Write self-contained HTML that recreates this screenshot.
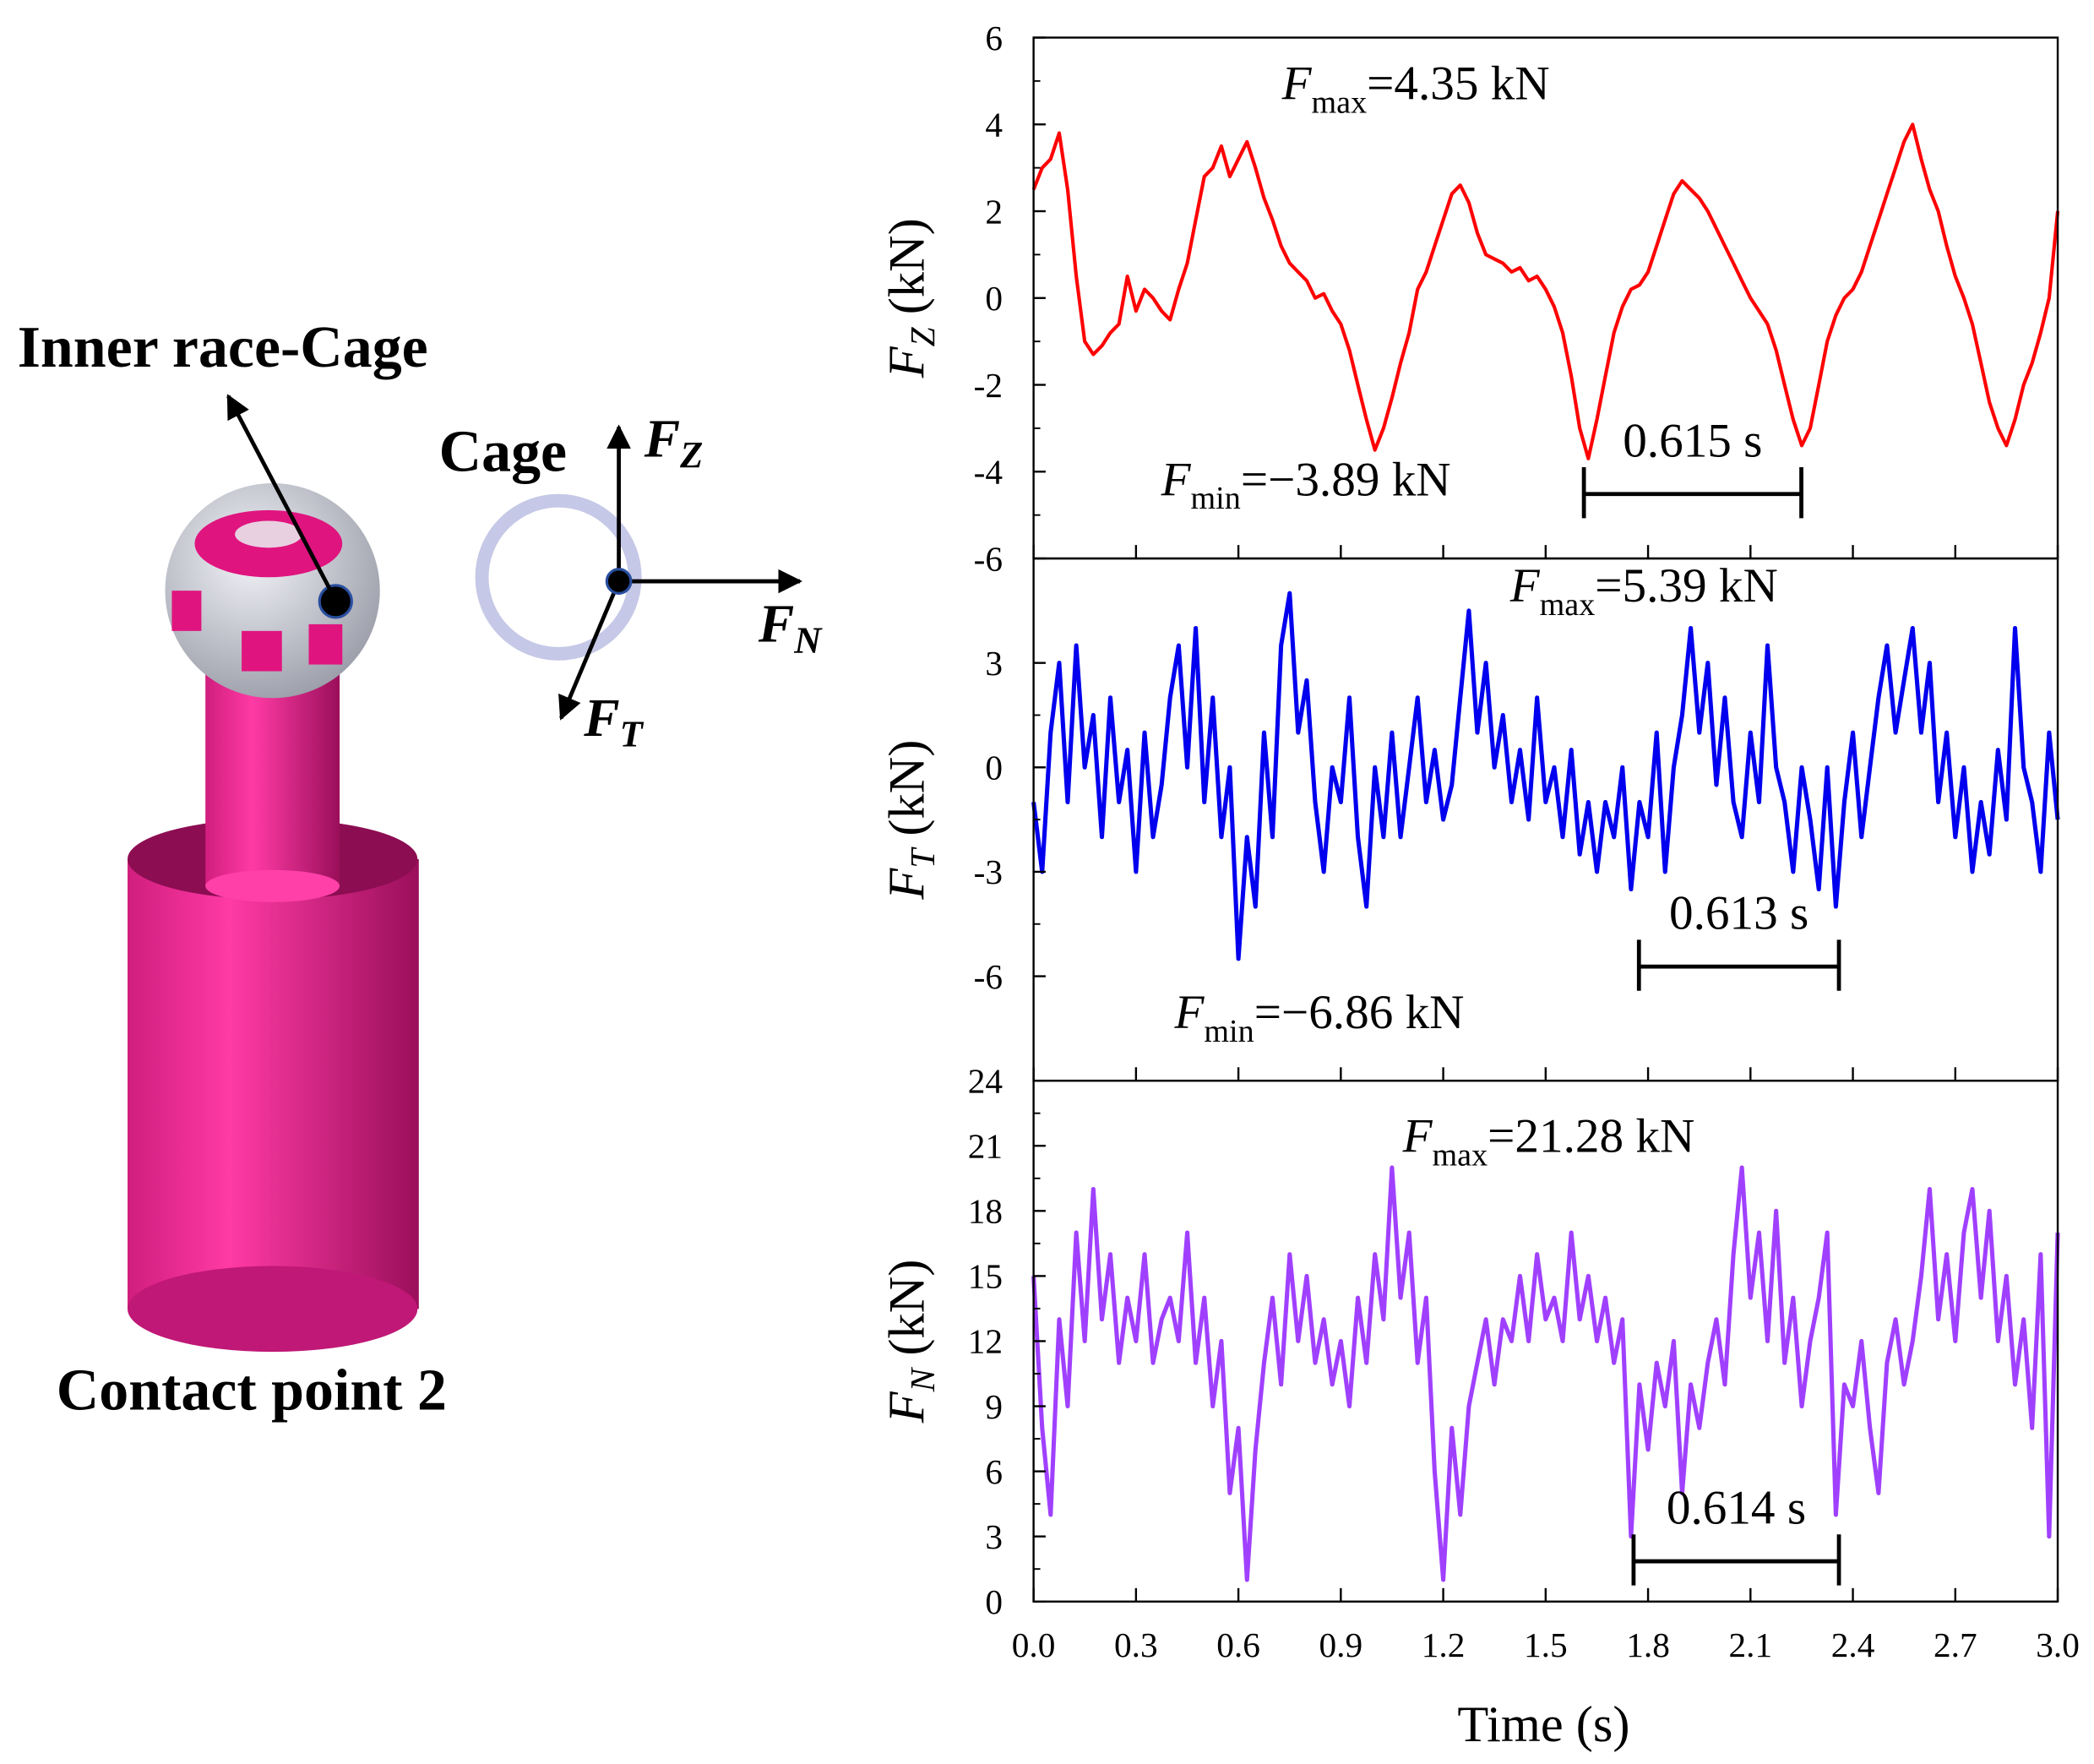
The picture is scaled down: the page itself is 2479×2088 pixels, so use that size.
<!DOCTYPE html>
<html><head><meta charset="utf-8"><style>
html,body{margin:0;padding:0;background:#fff}
svg{display:block}
text{font-family:"Liberation Serif",serif}
</style></head><body>
<svg id="fig" width="2479" height="2088" viewBox="0 0 1560 1314" xmlns="http://www.w3.org/2000/svg">
<defs>
<linearGradient id="cyl" x1="0" x2="1"><stop offset="0" stop-color="#d01e7e"/><stop offset="0.35" stop-color="#ff3aa5"/><stop offset="1" stop-color="#9a0f5a"/></linearGradient>
<radialGradient id="ball" cx="0.4" cy="0.35" r="0.7"><stop offset="0" stop-color="#f2f3f8"/><stop offset="1" stop-color="#9a9ca8"/></radialGradient>
<marker id="ah" viewBox="0 0 10 10" refX="9" refY="5" markerWidth="6" markerHeight="6" orient="auto"><path d="M0,0L10,5L0,10z" fill="#000"/></marker>
</defs>
<g>
<rect x="95" y="640" width="217" height="335" fill="url(#cyl)"/>
<ellipse cx="203" cy="975" rx="108" ry="32" fill="#c01876"/>
<ellipse cx="203" cy="640" rx="108" ry="30" fill="#8c0d52"/>
<rect x="153" y="500" width="100" height="160" fill="url(#cyl)"/>
<ellipse cx="203" cy="660" rx="50" ry="12" fill="#ff40a8"/>
<circle cx="203" cy="440" r="80" fill="url(#ball)"/>
<ellipse cx="200" cy="405" rx="55" ry="25" fill="#e0147f"/>
<ellipse cx="200" cy="398" rx="25" ry="10" fill="#e8d0e0"/>
<rect x="128" y="440" width="22" height="30" fill="#e0147f"/>
<rect x="180" y="470" width="30" height="30" fill="#e0147f"/>
<rect x="230" y="465" width="25" height="30" fill="#e0147f"/>
<circle cx="250" cy="448" r="12" fill="#000" stroke="#2a4fa0" stroke-width="2"/>
<line x1="250" y1="447" x2="170" y2="295" stroke="#000" stroke-width="3" marker-end="url(#ah)"/>
<text x="13" y="273" font-size="44" font-weight="bold">Inner race-Cage</text>
<text x="42" y="1050" font-size="44" font-weight="bold">Contact point 2</text>
<text x="327" y="351" font-size="44" font-weight="bold">Cage</text>
<circle cx="416" cy="430" r="57" fill="none" stroke="#c5c8e6" stroke-width="10"/>
<line x1="461" y1="433" x2="461" y2="318" stroke="#000" stroke-width="3" marker-end="url(#ah)"/>
<line x1="461" y1="433" x2="596" y2="433" stroke="#000" stroke-width="3" marker-end="url(#ah)"/>
<line x1="461" y1="433" x2="418" y2="535" stroke="#000" stroke-width="3" marker-end="url(#ah)"/>
<circle cx="461" cy="433" r="9" fill="#000" stroke="#2a4fa0" stroke-width="2"/>
<text x="480" y="340" font-size="40" font-weight="bold" font-style="italic">F<tspan font-size="28" dy="8">Z</tspan></text>
<text x="565" y="478" font-size="40" font-weight="bold" font-style="italic">F<tspan font-size="28" dy="8">N</tspan></text>
<text x="435" y="548" font-size="40" font-weight="bold" font-style="italic">F<tspan font-size="28" dy="8">T</tspan></text>
</g>
<g id="charts"></g>
</svg>
<script>
const fzValues=[2.5,3.0,3.2,3.8,2.5,0.5,-1.0,-1.3,-1.1,-0.8,-0.6,0.5,-0.3,0.2,0.0,-0.3,-0.5,0.2,0.8,1.8,2.8,3.0,3.5,2.8,3.2,3.6,3.0,2.3,1.8,1.2,0.8,0.6,0.4,0.0,0.1,-0.3,-0.6,-1.2,-2.0,-2.8,-3.5,-3.0,-2.3,-1.5,-0.8,0.2,0.6,1.2,1.8,2.4,2.6,2.2,1.5,1.0,0.9,0.8,0.6,0.7,0.4,0.5,0.2,-0.2,-0.8,-1.8,-3.0,-3.7,-2.8,-1.8,-0.8,-0.2,0.2,0.3,0.6,1.2,1.8,2.4,2.7,2.5,2.3,2.0,1.6,1.2,0.8,0.4,0.0,-0.3,-0.6,-1.2,-2.0,-2.8,-3.4,-3.0,-2.0,-1.0,-0.4,0.0,0.2,0.6,1.2,1.8,2.4,3.0,3.6,4.0,3.2,2.5,2.0,1.2,0.5,0.0,-0.6,-1.5,-2.4,-3.0,-3.4,-2.8,-2.0,-1.5,-0.8,0.0,2.0];
const ftValues=[-1,-3,1,3,-1,3.5,0,1.5,-2,2,-1,0.5,-3,1,-2,-0.5,2,3.5,0,4,-1,2,-2,0,-5.5,-2,-4,1,-2,3.5,5,1,2.5,-1,-3,0,-1,2,-2,-4,0,-2,1,-2,0,2,-1,0.5,-1.5,-0.5,2,4.5,1,3,0,1.5,-1,0.5,-1.5,2,-1,0,-2,0.5,-2.5,-1,-3,-1,-2,0,-3.5,-1,-2,1,-3,0,1.5,4,1,3,-0.5,2,-1,-2,1,-1,3.5,0,-1,-3,0,-1.5,-3.5,0,-4,-1,1,-2,0,2,3.5,1,2.5,4,1,3,-1,1,-2,0,-3,-1,-2.5,0.5,-1.5,4,0,-1,-3,1,-1.5];
const fnValues=[15,8,4,13,9,17,12,19,13,16,11,14,12,16,11,13,14,12,17,11,14,9,12,5,8,1,7,11,14,10,16,12,15,11,13,10,12,9,14,11,16,13,20,14,17,11,14,6,1,8,4,9,11,13,10,13,12,15,12,16,13,14,12,17,13,15,12,14,11,13,3,10,7,11,9,12,5,10,8,11,13,10,16,20,14,17,12,18,11,14,9,12,14,17,4,10,9,12,8,5,11,13,10,12,15,19,13,16,12,17,19,14,18,12,15,10,13,8,16,3,17];
const xTickLabels=["0.0","0.3","0.6","0.9","1.2","1.5","1.8","2.1","2.4","2.7","3.0"];
const fzTicks=[6,4,2,0,-2,-4,-6];
const ftTicks=[3,0,-3,-6];
const fnTicks=[24,21,18,15,12,9,6,3,0];
const tEnd=3.0;

const NS="http://www.w3.org/2000/svg";
const g=document.getElementById('charts');
const X0=770,X1=1533;
function xs(t){return X0+(t/tEnd)*(X1-X0);}
function mk(tag,attrs,parent){const e=document.createElementNS(NS,tag);for(const k in attrs)e.setAttribute(k,attrs[k]);(parent||g).appendChild(e);return e;}
function txt(x,y,s,size,anchor,parent){const e=mk('text',{x:x,y:y,'font-size':size,'text-anchor':anchor||'start'},parent);e.textContent=s;return e;}

const panels=[
 {name:'fz',top:28,bot:416,min:-6,max:6,vals:fzValues,ticks:fzTicks,color:'#ff0000',sw:2.6,sub:'Z'},
 {name:'ft',top:416,bot:805,min:-9,max:6,vals:ftValues,ticks:ftTicks,color:'#0000ee',sw:3.2,sub:'T'},
 {name:'fn',top:805,bot:1193,min:0,max:24,vals:fnValues,ticks:fnTicks,color:'#a040ff',sw:3.2,sub:'N'}
];
panels.forEach(p=>{
 const pg=mk('g',{});
 
 
 const ys=v=>p.bot-(v-p.min)/(p.max-p.min)*(p.bot-p.top);
 const n=p.vals.length;
 let d='';
 p.vals.forEach((v,i)=>{d+=(i?'L':'M')+xs(i*tEnd/(n-1)).toFixed(1)+','+ys(v).toFixed(1);});
 const line=mk('path',{d:d,fill:'none',stroke:p.color,'stroke-width':p.sw,'stroke-linejoin':'round'},pg);
 
 
 const fr=mk('rect',{x:X0,y:p.top,width:X1-X0,height:p.bot-p.top,fill:'none',stroke:'#000','stroke-width':1.5},pg);
 
 
 xTickLabels.forEach(l=>{const x=xs(parseFloat(l));mk('line',{x1:x,x2:x,y1:p.bot,y2:p.bot-10,stroke:'#000','stroke-width':1.5},pg);});
 p.ticks.forEach((v,i)=>{const y=ys(v);mk('line',{x1:X0,x2:X0+9,y1:y,y2:y,stroke:'#000','stroke-width':1.5},pg);
   const lab=txt(747,y+9,String(v),26,'end',pg);
   
   
   if(i<p.ticks.length-1){const ym=ys((v+p.ticks[i+1])/2);mk('line',{x1:X0,x2:X0+5,y1:ym,y2:ym,stroke:'#000','stroke-width':1.2},pg);}
 });
 const cy=(p.top+p.bot)/2;
 const t=mk('text',{x:0,y:0,'font-size':38,'text-anchor':'middle',transform:'translate(688,'+cy+') rotate(-90)'},pg);
 t.innerHTML='<tspan font-style="italic">F</tspan><tspan font-style="italic" font-size="26" dy="8">'+p.sub+'</tspan><tspan dy="-8"> (kN)</tspan>';
 
 
});
xTickLabels.forEach(l=>{const e=txt(xs(parseFloat(l)),1234,l,26,'middle');
 
 });
const xt=txt(1150,1297,'Time (s)',38,'middle');



function annot(x,y,sub,val,name){const e=mk('text',{x:x,y:y,'font-size':36});
 e.innerHTML='<tspan font-style="italic">F</tspan><tspan font-size="24" dy="10">'+sub+'</tspan><tspan dy="-10">='+val+' kN</tspan>';
 
 }
annot(955,74,'max','4.35','fz-max-label');
annot(865,369,'min','\u22123.89','fz-min-label');
annot(1125,448,'max','5.39','ft-max-label');
annot(875,766,'min','\u22126.86','ft-min-label');
annot(1045,858,'max','21.28','fn-max-label');
function bracket(x1,x2,y,lab,name){const bg=mk('g',{});
 
 
 mk('line',{x1:x1,x2:x2,y1:y,y2:y,stroke:'#000','stroke-width':3},bg);
 mk('line',{x1:x1,x2:x1,y1:y-20,y2:y+18,stroke:'#000','stroke-width':3},bg);
 mk('line',{x1:x2,x2:x2,y1:y-20,y2:y+18,stroke:'#000','stroke-width':3},bg);
 txt((x1+x2)/2,y-28,lab,36,'middle',bg);}
bracket(1180,1342,368,'0.615 s','fz-period-bracket');
bracket(1221,1370,720,'0.613 s','ft-period-bracket');
bracket(1217,1370,1163,'0.614 s','fn-period-bracket');
</script>
</body></html>
